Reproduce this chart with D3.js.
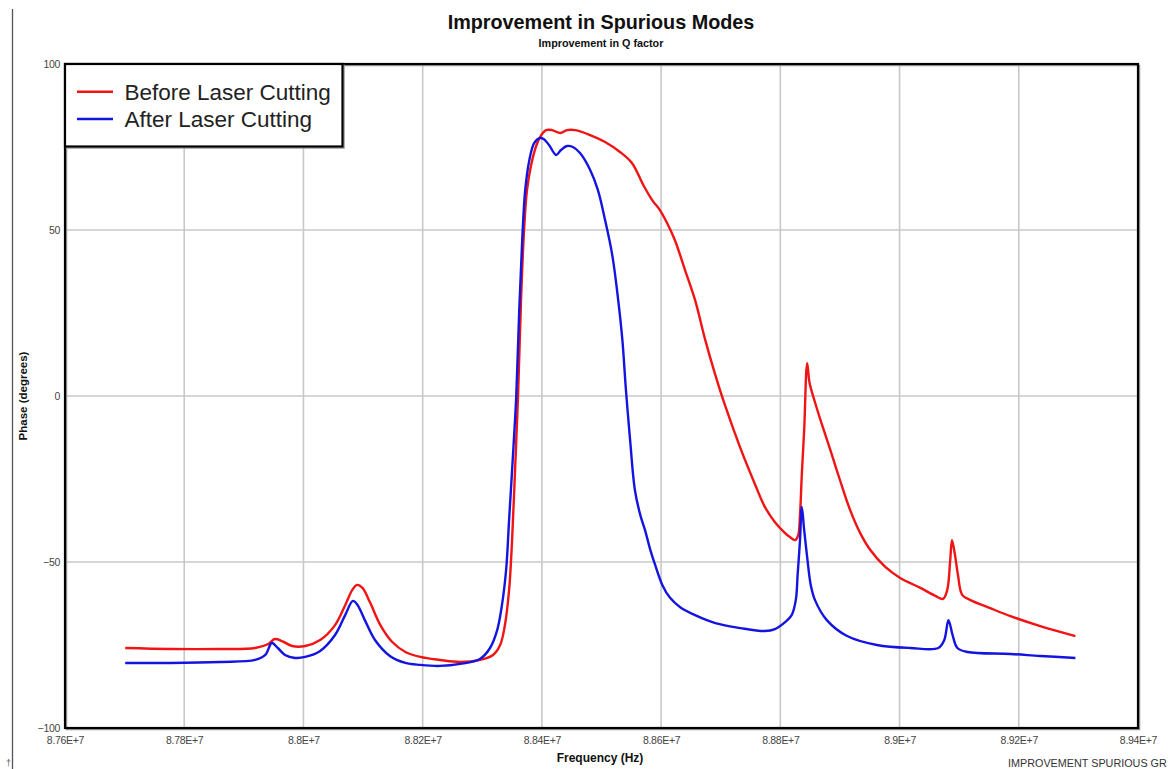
<!DOCTYPE html>
<html>
<head>
<meta charset="utf-8">
<script src="https://cdn.jsdelivr.net/npm/d3@7"></script>
<style>
  html, body { margin: 0; padding: 0; background: #ffffff; overflow: hidden; }
  svg { display: block; }
</style>
</head>
<body>
<svg id="chart" width="1168" height="769"></svg>
<script>
// Frequency sweep (MHz) and phase (degrees) before laser cutting
const freqBefore = [
  87.701, 87.776, 87.860, 87.919, 87.941, 87.952, 87.964, 87.981, 88.003, 88.028,
  88.053, 88.070, 88.082, 88.090, 88.099, 88.112, 88.129, 88.149, 88.171, 88.196,
  88.229, 88.263, 88.296, 88.318, 88.330, 88.338, 88.345, 88.350, 88.355, 88.360,
  88.365, 88.370, 88.375, 88.382, 88.391, 88.399, 88.407, 88.417, 88.431, 88.442,
  88.456, 88.481, 88.506, 88.531, 88.551, 88.570, 88.585, 88.598, 88.610, 88.623,
  88.640, 88.657, 88.674, 88.691, 88.707, 88.733, 88.758, 88.774, 88.791, 88.808,
  88.816, 88.825, 88.830, 88.833, 88.836, 88.840, 88.845, 88.849, 88.858, 88.870,
  88.884, 88.900, 88.917, 88.934, 88.951, 88.976, 89.001, 89.035, 89.060, 89.073,
  89.080, 89.085, 89.088, 89.093, 89.098, 89.105, 89.118, 89.152, 89.186, 89.236,
  89.295
];
const phaseBefore = [
  -75.9, -76.2, -76.2, -75.9, -74.7, -73.2, -73.8, -75.3, -75.3, -73.5,
  -69.0, -63.0, -58.4, -56.9, -57.8, -62.3, -69.0, -74.1, -77.1, -78.6,
  -79.5, -80.1, -79.5, -78.0, -75.0, -69.0, -58.4, -43.4, -22.3, 0.0,
  28.9, 49.7, 62.0, 69.6, 75.6, 78.6, 80.1, 80.1, 79.2, 80.1,
  80.1, 78.6, 76.5, 73.5, 70.2, 63.6, 59.0, 56.0, 52.1, 47.0,
  38.0, 28.9, 16.9, 6.3, -2.7, -15.7, -26.8, -33.4, -38.0, -41.3,
  -42.5, -43.4, -41.9, -35.8, -23.8, -10.2, 9.9, 4.0, -1.8, -8.7,
  -16.3, -25.3, -34.3, -41.3, -46.4, -51.5, -54.8, -57.8, -60.2, -61.1,
  -58.4, -49.4, -43.4, -47.9, -53.9, -59.9, -61.4, -63.9, -66.3, -69.3,
  -72.3
];

// Frequency sweep (MHz) and phase (degrees) after laser cutting
const freqAfter = [
  87.701, 87.776, 87.860, 87.919, 87.936, 87.947, 87.957, 87.969, 87.986, 88.003,
  88.028, 88.053, 88.070, 88.083, 88.091, 88.103, 88.120, 88.145, 88.171, 88.196,
  88.229, 88.263, 88.296, 88.313, 88.325, 88.333, 88.340, 88.345, 88.352, 88.357,
  88.362, 88.367, 88.372, 88.379, 88.387, 88.396, 88.403, 88.412, 88.424, 88.432,
  88.442, 88.452, 88.464, 88.481, 88.494, 88.506, 88.518, 88.528, 88.535, 88.541,
  88.548, 88.556, 88.565, 88.573, 88.582, 88.590, 88.602, 88.615, 88.632, 88.657,
  88.691, 88.733, 88.774, 88.791, 88.808, 88.819, 88.826, 88.829, 88.833, 88.836,
  88.840, 88.845, 88.851, 88.858, 88.878, 88.912, 88.962, 89.018, 89.065, 89.075,
  89.082, 89.089, 89.097, 89.114, 89.186, 89.236, 89.295
];
const phaseAfter = [
  -80.4, -80.4, -80.1, -79.5, -78.0, -74.4, -75.9, -78.0, -78.9, -78.6,
  -76.8, -72.0, -66.0, -61.7, -63.0, -67.5, -73.5, -78.3, -80.4, -81.0,
  -81.3, -80.7, -79.2, -75.9, -70.5, -63.0, -52.4, -37.3, -16.3, 0.0,
  25.9, 47.0, 62.0, 71.1, 76.2, 77.7, 77.4, 75.6, 72.6, 74.1,
  75.3, 75.0, 73.2, 68.1, 62.0, 53.0, 42.5, 28.9, 16.9, 1.8,
  -13.3, -28.3, -35.8, -40.4, -46.4, -50.9, -56.9, -60.8, -63.6, -66.0,
  -68.4, -69.9, -70.8, -70.2, -68.1, -66.0, -61.4, -53.9, -43.4, -33.4,
  -40.4, -48.5, -56.9, -61.4, -67.5, -72.3, -75.0, -75.9, -75.9, -73.5,
  -67.5, -72.0, -75.9, -77.1, -77.7, -78.3, -78.9
];

// Axis ticks
const xTickValues = [87.6, 87.8, 88.0, 88.2, 88.4, 88.6, 88.8, 89.0, 89.2, 89.4];
const yTickValues = [-100, -50, 0, 50, 100];
const yGridValues = [-50, 0, 50];

const seriesNames = ["Before Laser Cutting", "After Laser Cutting"];
const seriesColors = ["#f01414", "#1414e0"];

const svg = d3.select("#chart");
const W = 1168, H = 769;
const plot = { left: 65, right: 1138, top: 64, bottom: 728 };
const FONT = "Liberation Sans, Arial, sans-serif";

const x = d3.scaleLinear().domain([87.6e6, 89.4e6]).range([plot.left, plot.right]);
const y = d3.scaleLinear().domain([-100, 100]).range([plot.bottom, plot.top]);

// Page edge rule on the left
svg.append("line")
  .attr("x1", 12.5).attr("x2", 12.5).attr("y1", 9).attr("y2", H)
  .attr("stroke", "#555").attr("stroke-width", 1.3);
svg.append("text")
  .attr("x", 6).attr("y", 766)
  .attr("font-family", FONT)
  .attr("font-size", 9).attr("fill", "#555")
  .text("†");

// Titles
svg.append("text")
  .attr("x", 601).attr("y", 28.5)
  .attr("text-anchor", "middle")
  .attr("font-family", FONT)
  .attr("font-weight", "bold").attr("font-size", 19.8).attr("fill", "#111")
  .text("Improvement in Spurious Modes");
svg.append("text")
  .attr("x", 601).attr("y", 46.5)
  .attr("text-anchor", "middle")
  .attr("font-family", FONT)
  .attr("font-weight", "bold").attr("font-size", 10.8).attr("fill", "#111")
  .text("Improvement in Q factor");

// Grid
const grid = svg.append("g").attr("stroke", "#c8c8c8").attr("stroke-width", 1.6);
grid.selectAll("line.v")
  .data(xTickValues.slice(1, -1))
  .join("line").attr("class", "v")
  .attr("x1", d => x(d * 1e6)).attr("x2", d => x(d * 1e6))
  .attr("y1", plot.top).attr("y2", plot.bottom);
grid.selectAll("line.h")
  .data(yGridValues)
  .join("line").attr("class", "h")
  .attr("x1", plot.left).attr("x2", plot.right)
  .attr("y1", d => y(d)).attr("y2", d => y(d));

// Axes (labels only)
const fmtSci = v => {
  const s = (v / 1e7).toFixed(2).replace(/0+$/, "").replace(/\.$/, "");
  return s + "E+7";
};
const xAxis = svg.append("g")
  .attr("transform", `translate(0,${plot.bottom})`)
  .call(d3.axisBottom(x).tickValues(xTickValues.map(d => d * 1e6))
    .tickFormat(fmtSci).tickSize(0).tickPadding(9));
xAxis.select(".domain").remove();
xAxis.selectAll("text")
  .attr("font-family", FONT)
  .attr("font-size", 10.5).attr("fill", "#444").attr("letter-spacing", -0.3);

const yAxis = svg.append("g")
  .attr("transform", `translate(${plot.left},0)`)
  .call(d3.axisLeft(y).tickValues(yTickValues).tickSize(0).tickPadding(5));
yAxis.select(".domain").remove();
yAxis.selectAll("text")
  .attr("font-family", FONT)
  .attr("font-size", 10.5).attr("fill", "#444").attr("letter-spacing", -0.3);

svg.append("text")
  .attr("x", 600).attr("y", 762)
  .attr("text-anchor", "middle")
  .attr("font-family", FONT)
  .attr("font-weight", "bold").attr("font-size", 12).attr("fill", "#111")
  .text("Frequency (Hz)");
svg.append("text")
  .attr("transform", `translate(27,396) rotate(-90)`)
  .attr("text-anchor", "middle")
  .attr("font-family", FONT)
  .attr("font-weight", "bold").attr("font-size", 11.5).attr("fill", "#111")
  .text("Phase (degrees)");

svg.append("text")
  .attr("x", 1008).attr("y", 767)
  .attr("font-family", FONT)
  .attr("font-size", 10.8).attr("fill", "#333")
  .text("IMPROVEMENT SPURIOUS GR");

// Curves
const line = d3.line()
  .x(d => x(d[0] * 1e6))
  .y(d => y(d[1]))
  .curve(d3.curveCatmullRom.alpha(0.5));

const series = [
  d3.zip(freqBefore, phaseBefore),
  d3.zip(freqAfter, phaseAfter)
];
svg.append("defs").append("clipPath").attr("id", "plotClip")
  .append("rect")
  .attr("x", plot.left).attr("y", plot.top)
  .attr("width", plot.right - plot.left).attr("height", plot.bottom - plot.top);

svg.append("g").attr("clip-path", "url(#plotClip)")
  .selectAll("path")
  .data(series)
  .join("path")
  .attr("d", line)
  .attr("fill", "none")
  .attr("stroke", (d, i) => seriesColors[i])
  .attr("stroke-width", 2.4)
  .attr("stroke-linejoin", "round");

// Plot frame with slight shadow
svg.append("rect")
  .attr("x", plot.left + 1.5).attr("y", plot.top + 1.5)
  .attr("width", plot.right - plot.left).attr("height", plot.bottom - plot.top)
  .attr("fill", "none").attr("stroke", "#999").attr("stroke-width", 1.5);
svg.append("rect")
  .attr("x", plot.left).attr("y", plot.top)
  .attr("width", plot.right - plot.left).attr("height", plot.bottom - plot.top)
  .attr("fill", "none").attr("stroke", "#000").attr("stroke-width", 2.2);

// Legend
const legend = svg.append("g");
legend.append("rect")
  .attr("x", plot.left + 1.5).attr("y", plot.top + 1.5)
  .attr("width", 342.5 - plot.left).attr("height", 146.5 - plot.top)
  .attr("fill", "none").attr("stroke", "#999").attr("stroke-width", 1.5);
legend.append("rect")
  .attr("x", plot.left).attr("y", plot.top)
  .attr("width", 342.5 - plot.left).attr("height", 146.5 - plot.top)
  .attr("fill", "#fff").attr("stroke", "#000").attr("stroke-width", 2.2);
const items = legend.selectAll("g.item")
  .data(seriesNames)
  .join("g").attr("class", "item")
  .attr("transform", (d, i) => `translate(0,${91.7 + i * 27.3})`);
items.append("line")
  .attr("x1", 77).attr("x2", 113)
  .attr("stroke", (d, i) => seriesColors[i]).attr("stroke-width", 2.4);
items.append("text")
  .attr("x", 124.5).attr("y", 8)
  .attr("font-family", FONT)
  .attr("font-size", 22.5).attr("fill", "#222")
  .text(d => d);
</script>
</body>
</html>
